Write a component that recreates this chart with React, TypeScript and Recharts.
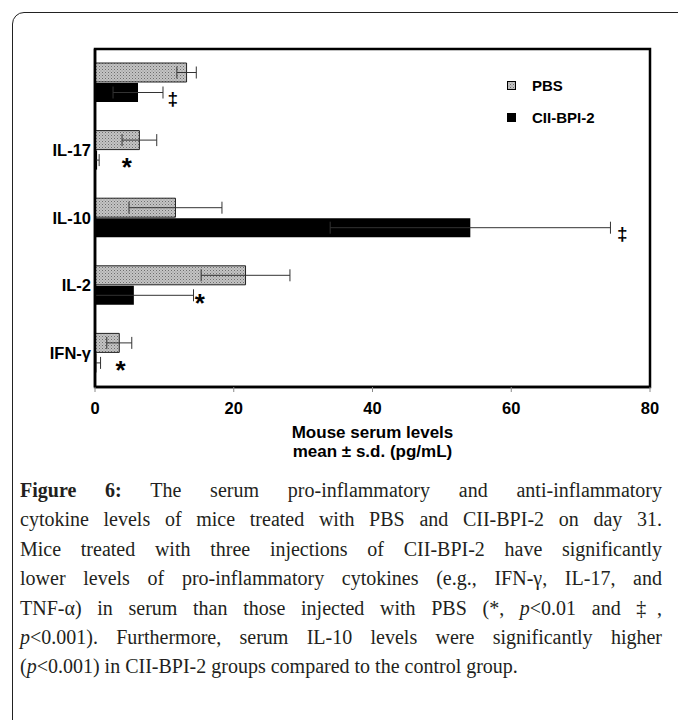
import React from "react"
import {
  ComposedChart, Bar, ErrorBar, Scatter,
  XAxis, YAxis, Legend, ReferenceArea
} from "recharts"

// values (pg/mL)
const categories = ["TNF-α", "IL-17", "IL-10", "IL-2", "IFN-γ"]
const tickLabels = ["", "IL-17", "IL-10", "IL-2", "IFN-γ"]
const pbsMean = [13.2, 6.4, 11.6, 21.7, 3.5]
const pbsSd = [1.4, 2.5, 6.7, 6.4, 1.8]
const ciiMean = [6.2, 0.3, 54.1, 5.6, 0.2]
const ciiSd = [3.6, 0.3, 20.2, 8.6, 0.6]
const sigMarks = ["‡", "*", "‡", "*", "*"]
const sigAt = [11.2, 4.6, 76, 15.1, 3.7]
const xTicks = [0, 20, 40, 60, 80]

const FONT = "'Liberation Sans', Arial, sans-serif"

const data = categories.map((name, i) => ({
  name,
  pbs: pbsMean[i],
  pbsErr: pbsSd[i],
  cii: ciiMean[i],
  // lower whisker stops at zero (hidden under the black bar anyway)
  ciiErr: [Math.min(ciiSd[i], ciiMean[i]), ciiSd[i]],
  sig: sigMarks[i],
  sigAt: sigAt[i],
}))

function renderMark(props: any) {
  const { cx, cy, payload } = props
  const star = payload.sig === "*"
  return (
    <text
      x={cx}
      y={star ? cy + 26 : cy + 22}
      textAnchor="middle"
      fontFamily={FONT}
      fontWeight="bold"
      fontSize={star ? 26 : 19}
      fill="#000"
    >
      {payload.sig}
    </text>
  )
}

function renderLegend() {
  const row = (fill: string, label: string) => (
    <div style={{ display: "flex", alignItems: "center", height: 32 }}>
      <svg width={9} height={9} style={{ marginRight: 16 }}>
        <rect x={0.5} y={0.5} width={8} height={8} fill={fill} stroke="#000" strokeWidth={1} />
      </svg>
      <span style={{ fontFamily: FONT, fontWeight: "bold", fontSize: 15, color: "#000" }}>{label}</span>
    </div>
  )
  return (
    <div>
      {row("url(#pbsDots)", "PBS")}
      {row("#000", "CII-BPI-2")}
    </div>
  )
}

function renderAxisTitle(props: any) {
  const { viewBox } = props
  const cx = viewBox.x + viewBox.width / 2
  return (
    <text textAnchor="middle" fontFamily={FONT} fontWeight="bold" fontSize={17} fill="#000">
      <tspan x={cx} y={viewBox.y + 51}>Mouse serum levels</tspan>
      <tspan x={cx} y={viewBox.y + 69.5}>mean ± s.d. (pg/mL)</tspan>
    </text>
  )
}

const captionLines: React.ReactNode[] = [
  <><b style={{ color: "#231f20" }}>Figure 6:</b> The serum pro-inflammatory and anti-inflammatory</>,
  <>cytokine levels of mice treated with PBS and CII-BPI-2 on day 31.</>,
  <>Mice treated with three injections of CII-BPI-2 have significantly</>,
  <>lower levels of pro-inflammatory cytokines (e.g., IFN-γ, IL-17, and</>,
  <>TNF-α) in serum than those injected with PBS (*, <i>p</i>&lt;0.01 and ‡,</>,
  <><i>p</i>&lt;0.001). Furthermore, serum IL-10 levels were significantly higher</>,
  <>(<i>p</i>&lt;0.001) in CII-BPI-2 groups compared to the control group.</>,
]

export default function App() {
  return (
    <div style={{ position: "absolute", left: 0, top: 0, width: 678, height: 720, overflow: "hidden", background: "#fff" }}>
      <div style={{
        position: "absolute", left: 12, top: 12, width: 720, height: 760,
        border: "1.5px solid #222", borderRadius: 12, boxSizing: "border-box"
      }} />
      <div style={{ position: "absolute", left: 0, top: 0 }}>
        <ComposedChart
          width={678}
          height={470}
          data={data}
          layout="vertical"
          margin={{ top: 49, right: 28, left: 0, bottom: 53 }}
          barSize={19}
          barGap={1}
        >
          <defs>
            <pattern id="pbsDots" width={3} height={3} patternUnits="userSpaceOnUse">
              <rect width={3} height={3} fill="#c4c4c4" />
              <rect width={1} height={1} fill="#6e6e6e" />
              <rect x={1.5} y={1.5} width={1} height={1} fill="#8c8c8c" />
            </pattern>
          </defs>
          <XAxis
            type="number"
            domain={[0, 80]}
            allowDataOverflow
            ticks={xTicks}
            height={30}
            axisLine={{ stroke: "#000", strokeWidth: 2.5 }}
            tickLine={{ stroke: "#888", strokeWidth: 1 }}
            tickSize={5}
            tickMargin={10}
            tick={{ fontFamily: FONT, fontWeight: "bold", fontSize: 16.5, fill: "#000" }}
            label={{ content: renderAxisTitle }}
          />
          <YAxis
            type="category"
            dataKey="name"
            width={95}
            tickLine={false}
            tickSize={0}
            tickMargin={4}
            axisLine={{ stroke: "#000", strokeWidth: 2.5 }}
            tick={{ fontFamily: FONT, fontWeight: "bold", fontSize: 16.5, fill: "#000" }}
            tickFormatter={(_v: string, i: number) => tickLabels[i]}
          />
          <ReferenceArea x1={0} x2={80} fill="none" stroke="#000" strokeWidth={2.5} />
          <Bar dataKey="pbs" fill="url(#pbsDots)" stroke="#222" strokeWidth={1} isAnimationActive={false}>
            <ErrorBar dataKey="pbsErr" direction="x" width={6} stroke="#333" strokeWidth={1} />
          </Bar>
          <Bar dataKey="cii" fill="#000" isAnimationActive={false}>
            <ErrorBar dataKey="ciiErr" direction="x" width={6} stroke="#333" strokeWidth={1} />
          </Bar>
          <Scatter dataKey="sigAt" shape={renderMark} isAnimationActive={false} />
          <Legend
            layout="vertical"
            align="center"
            verticalAlign="middle"
            wrapperStyle={{ position: "absolute", left: 507, top: 69, width: 140 }}
            content={renderLegend}
          />
        </ComposedChart>
      </div>
      <div style={{
        position: "absolute", left: 20, top: 476, width: 642,
        fontFamily: "'Liberation Serif', 'Times New Roman', serif", fontSize: 20, lineHeight: "29.4px", color: "#231f20"
      }}>
        {captionLines.map((line, i) => (
          <div
            key={i}
            style={{
              textAlign: "justify",
              textAlignLast: i === captionLines.length - 1 ? "left" : "justify",
              whiteSpace: "nowrap",
            }}
          >
            {line}
          </div>
        ))}
      </div>
    </div>
  )
}
